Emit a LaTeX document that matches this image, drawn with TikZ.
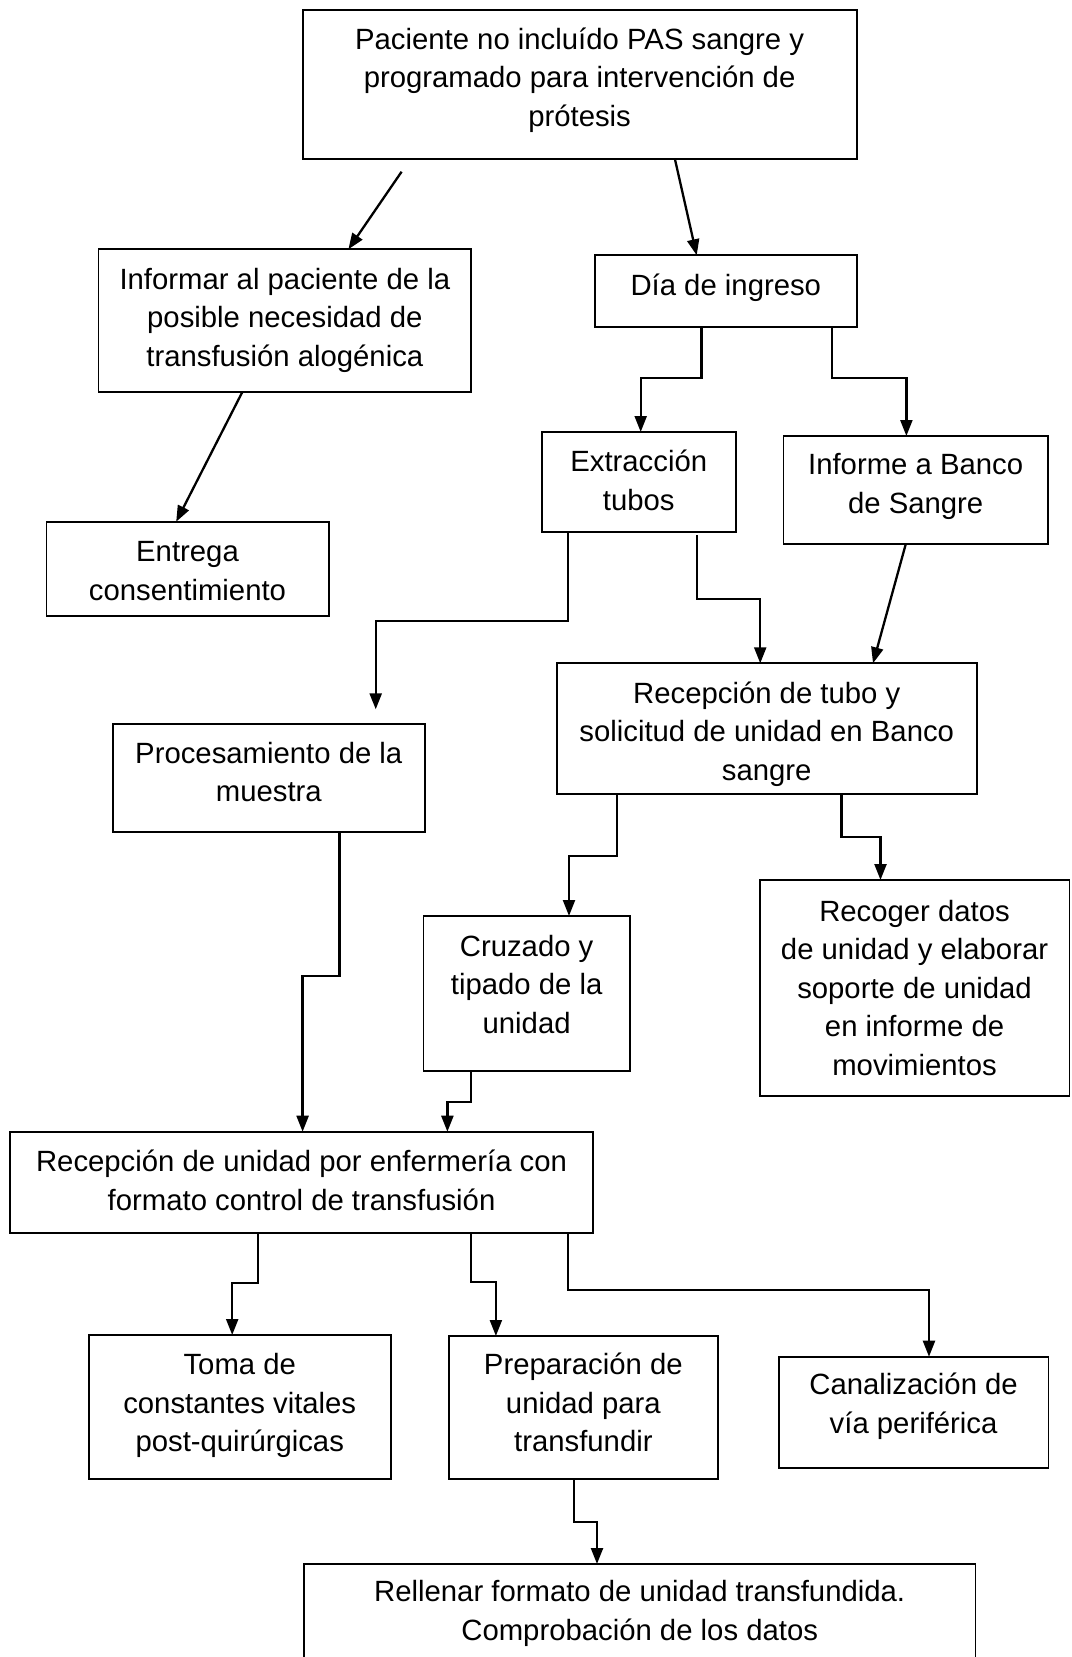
\documentclass[tikz,border=0pt]{standalone}
\usepackage{fontspec}
\setmainfont{Liberation Sans}
\usetikzlibrary{arrows.meta}
\begin{document}
\begin{tikzpicture}[x=1pt,y=-1pt,
  box/.style={draw, line width=1.8pt, rectangle, inner sep=0pt, outer sep=0pt},
  txt/.style={anchor=base, align=center, inner sep=0pt,
              font=\fontsize{29.3}{38.5}\selectfont},
  conn/.style={line width=2.3pt, -{Triangle[length=16pt,width=12pt]}}]
\useasboundingbox (0,0) rectangle (1071,1657);
\fill[white] (0,0) rectangle (1071,1657);
\clip (0,0) rectangle (1071,1657);

% boxes
\node[box, minimum width=554pt,   minimum height=149pt]   (top)      at (579.6,84.5)    {};
\node[box, minimum width=372.9pt, minimum height=142.4pt] (inform)   at (284.85,320.5)  {};
\node[box, minimum width=261.6pt, minimum height=72pt]    (dia)      at (725.8,291.3)   {};
\node[box, minimum width=194pt,   minimum height=100.3pt] (extr)     at (638.7,482.15)  {};
\node[box, minimum width=264.3pt, minimum height=108.3pt] (ibs)      at (915.65,490.15) {};
\node[box, minimum width=282.2pt, minimum height=94pt]    (entrega)  at (187.5,568.7)   {};
\node[box, minimum width=312.2pt, minimum height=107.7pt] (proc)     at (268.8,777.85)  {};
\node[box, minimum width=420.1pt, minimum height=131pt]   (rectubo)  at (766.75,728.8)  {};
\node[box, minimum width=206.3pt, minimum height=155pt]   (cruz)     at (526.65,993.5)  {};
\node[box, minimum width=309.9pt, minimum height=216pt]   (recoger)  at (914.55,988)    {};
\node[box, minimum width=582.7pt, minimum height=101pt]   (recunid)  at (301.55,1182.2) {};
\node[box, minimum width=301.9pt, minimum height=144.3pt] (toma)     at (239.75,1407.15){};
\node[box, minimum width=269.1pt, minimum height=143.3pt] (prep)     at (583.35,1407.65){};
\node[box, minimum width=269.8pt, minimum height=111.6pt] (canal)    at (913.6,1412.5)  {};
\node[box, minimum width=671.4pt, minimum height=136pt]   (rellenar) at (639.7,1632)    {};

% texts (placed by the baseline of their last line)
\node[txt] (top-t)      at (579.6,126)    {Paciente no incluído PAS sangre y\\programado para intervención de\\prótesis};
\node[txt] (inform-t)   at (284.85,366)   {Informar al paciente de la\\posible necesidad de\\transfusión alogénica};
\node[txt] (dia-t)      at (725.8,295)    {Día de ingreso};
\node[txt] (extr-t)     at (638.7,510)    {Extracción\\tubos};
\node[txt] (ibs-t)      at (915.65,513)   {Informe a Banco\\de Sangre};
\node[txt] (entrega-t)  at (187.5,600)    {Entrega\\consentimiento};
\node[txt] (proc-t)     at (268.8,801.7)  {Procesamiento de la\\muestra};
\node[txt] (rectubo-t)  at (766.75,780)   {Recepción de tubo y\\solicitud de unidad en Banco\\sangre};
\node[txt] (cruz-t)     at (526.65,1033.3){Cruzado y\\tipado de la\\unidad};
\node[txt] (recoger-t)  at (914.55,1075)  {Recoger datos\\de unidad y elaborar\\soporte de unidad\\en informe de\\movimientos};
\node[txt] (recunid-t)  at (301.55,1210)  {Recepción de unidad por enfermería con\\formato control de transfusión};
\node[txt] (toma-t)     at (239.75,1451.7){Toma de\\constantes vitales\\post-quirúrgicas};
\node[txt] (prep-t)     at (583.35,1451.7){Preparación de\\unidad para\\transfundir};
\node[txt] (canal-t)    at (913.6,1433.3) {Canalización de\\vía periférica};
\node[txt] (rellenar-t) at (639.7,1640)   {Rellenar formato de unidad transfundida.\\Comprobación de los datos};

% free connector ends
\coordinate (startinf) at (401.6,171.7);
\coordinate (procin)   at (375.7,709.3);

% connectors
\draw[conn] (startinf) -- ([xshift=250pt]inform.north west);
\draw[conn] ([xshift=372.3pt]top.south west) -- ([xshift=101.7pt]dia.north west);
\draw[conn] ([xshift=106.5pt]dia.south west) -- ++(0,51) -| ([xshift=99pt]extr.north west);
\draw[conn] ([xshift=237pt]dia.south west) -- ++(0,51) -| ([xshift=122.9pt]ibs.north west);
\draw[conn] ([xshift=144.1pt]inform.south west) -- ([xshift=129.8pt]entrega.north west);
\draw[conn] ([xshift=26.6pt]extr.south west) -- ++(0,88.4) -| (procin);
\draw[conn] ([xshift=155pt,yshift=-3pt]extr.south west) -- ++(0,64) -| ([xshift=203.5pt]rectubo.north west);
\draw[conn] ([xshift=122.2pt]ibs.south west) -- ([xshift=316.3pt]rectubo.north west);
\draw[conn] ([xshift=60.1pt]rectubo.south west) -- ++(0,61.7) -| ([xshift=145.5pt]cruz.north west);
\draw[conn] ([xshift=284.8pt]rectubo.south west) -- ++(0,42.4) -| ([xshift=120.9pt]recoger.north west);
\draw[conn] ([xshift=226.8pt]proc.south west) -- ++(0,144) -| ([xshift=292.4pt]recunid.north west);
\draw[conn] ([xshift=47.8pt]cruz.south west) -- ++(0,31.3) -| ([xshift=437.2pt]recunid.north west);
\draw[conn] ([xshift=248pt]recunid.south west) -- ++(0,50.6) -| ([xshift=143.4pt]toma.north west);
\draw[conn] ([xshift=461.1pt]recunid.south west) -- ++(0,49.6) -| ([xshift=47.1pt]prep.north west);
\draw[conn] ([xshift=558.1pt]recunid.south west) -- ++(0,57.3) -| ([xshift=150.3pt]canal.north west);
\draw[conn] ([xshift=125pt]prep.south west) -- ++(0,43) -| ([xshift=293pt]rellenar.north west);
\end{tikzpicture}
\end{document}
